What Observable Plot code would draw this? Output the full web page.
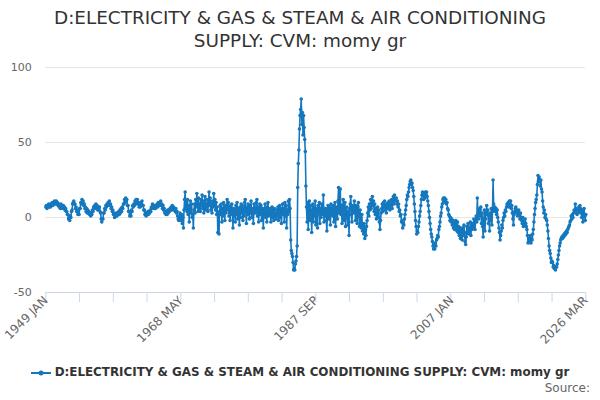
<!DOCTYPE html>
<html><head><meta charset="utf-8">
<script src="https://cdn.jsdelivr.net/npm/d3@7"></script>
<script src="https://cdn.jsdelivr.net/npm/@observablehq/plot@0.6"></script>
<style>
body{margin:0;background:#fff;font-family:"DejaVu Sans",sans-serif;}
#wrap{position:relative;width:600px;height:400px;overflow:hidden;background:#fff;}
#title{position:absolute;top:6px;left:0;width:600px;text-align:center;font-size:18.4px;color:#333;line-height:23px;}
#chart{position:absolute;left:0;top:0;}
#legend{position:absolute;top:365px;left:0;width:600px;text-align:center;font-size:11.9px;font-weight:bold;color:#333;white-space:nowrap;}
#legend svg{vertical-align:middle;margin-right:4px;}
#source{position:absolute;top:381px;right:10px;font-size:12px;color:#666;}
</style>
</head><body>
<div id="wrap">
<div id="chart"></div>
<div id="title">D:ELECTRICITY &amp; GAS &amp; STEAM &amp; AIR CONDITIONING<br>SUPPLY: CVM: momy gr</div>
<div id="legend"><svg width="20" height="10"><line x1="0" y1="5" x2="20" y2="5" stroke="#1578be" stroke-width="2"/><circle cx="10" cy="5" r="2.5" fill="#1578be"/></svg>D:ELECTRICITY &amp; GAS &amp; STEAM &amp; AIR CONDITIONING SUPPLY: CVM: momy gr</div>
<div id="source">Source:</div>
</div>
<script>
const seriesName = "D:ELECTRICITY & GAS & STEAM & AIR CONDITIONING SUPPLY: CVM: momy gr";
const startYear = 1949;
// monthly values, Jan 1949 onward
const d1949 = [
7,8,6,8,7,9,7,8,7,9,8,10,
8,10,9,11,9,10,11,9,10,8,9,7,
8,6,9,7,8,6,8,7,7,5,6,4,
4,2,2,-1,0,-2,1,0,4,5,9,10,
11,9,9,6,7,4,5,2,3,2,6,6,
10,9,12,10,11,8,9,6,7,4,6,3,
5,3,4,2,3,1,3,2,5,4,7,6,
8,6,9,6,8,5,7,6,7,4,3,-1,
-3,-1,-1,3,3,6,5,8,7,9,8,10,
9,11,8,9,6,7,4,5,2,3,0,2];
const d1959 = [
1,3,1,3,2,4,2,5,3,6,4,7,
6,9,9,12,10,13,11,12,8,8,4,4,
1,2,1,5,4,8,7,9,8,11,9,12,
10,12,9,10,7,8,7,10,9,11,8,8,
5,5,2,3,1,3,2,4,2,4,3,5,
4,7,6,9,7,8,6,8,6,8,7,9,
7,10,8,10,9,11,8,9,6,8,5,6,
3,4,2,4,2,5,3,5,4,6,5,7,
5,8,6,7,5,6,4,6,3,4,1,-1,
-2,0,3,1,-2,2,-4,0,-7,5,12,17];
const d1969 = [
6,10,4,12,2,8,-3,6,11,3,9,0,
2,-7,5,9,3,12,7,16,10,4,13,6,
9,4,12,8,15,6,11,3,10,14,5,9,
7,12,4,10,17,8,13,5,9,3,11,7,
16,8,12,5,10,2,7,-10,3,-11,4,8,
2,9,-3,6,1,10,4,-2,8,3,7,12,
5,10,1,7,-2,8,3,9,2,-7,6,1,
4,-3,8,2,10,-1,6,3,-5,7,0,9,
3,8,-2,6,1,10,12,4,-4,7,2,9,
5,-1,8,3,11,0,6,2,-4,9,4,7];
const d1979 = [
3,10,12,1,7,-3,5,9,2,8,-2,6,
4,-7,6,2,9,0,5,-3,7,10,1,4,
2,6,-3,4,7,0,5,-2,6,1,3,-1,
5,1,7,-2,4,8,0,6,-4,3,9,2,
6,-3,10,1,8,-7,5,2,11,4,12,6,
-15,-22,-24,-26,-30,-35,-34,-35,-31,-29,-26,-19,
20,36,45,59,68,72,79,62,70,55,68,60,
52,44,21,7,-3,10,-8,5,11,-2,8,3,
-10,4,9,-3,7,1,11,-5,6,2,-7,8,
3,10,-4,6,0,9,2,7,15,-3,5,1];
const d1989 = [
6,-2,-9,4,8,-1,7,3,-5,9,2,6,
1,8,-3,5,10,-6,4,7,-1,11,20,3,
9,19,2,8,-4,6,12,-2,5,10,-6,3,
7,1,-5,4,-12,6,9,14,2,-3,8,5,
3,11,6,-2,8,4,-4,7,10,1,-6,5,
-3,-7,2,-9,-5,-11,-4,-14,-8,-12,-6,-2,
3,7,1,9,5,12,6,10,14,8,11,4,
9,2,6,-1,4,7,0,5,-3,-8,-2,3,
6,9,4,10,7,11,5,8,3,9,6,10,
7,11,5,9,8,12,6,10,14,9,15,12];
const d1999 = [
11,13,9,11,7,9,4,5,1,2,-3,-2,
-7,-4,-5,-1,2,5,8,12,15,14,17,20,
22,24,25,22,23,20,18,14,9,4,-2,-6,
-11,-9,-10,-6,-3,1,4,8,12,15,17,16,
12,15,13,17,15,17,14,11,8,4,0,-4,
-8,-11,-13,-16,-19,-21,-18,-21,-17,-19,-15,-14,
-12,-13,-8,-6,-3,1,3,7,9,12,13,11,
13,10,12,9,10,6,5,2,1,-2,0,-3,
-1,-5,-2,-7,-3,-8,-4,-2,-6,-9,-3,-10,
-6,-12,-8,-14,-7,-11,-15,-7,-12,-5,-10,-16];
const d2009 = [
-18,-13,-6,-10,-4,-11,-7,-9,-3,-12,-5,-8,
-4,-7,-1,-5,-8,-2,1,-3,13,2,-1,4,
6,1,7,-4,3,-6,-13,-2,5,-9,-1,3,
8,2,5,-4,1,-9,3,-2,6,-5,4,25,
9,5,7,4,6,2,5,0,-3,-7,-10,-15,
-12,-9,-5,-7,-2,0,3,1,5,4,7,9,
8,10,7,11,9,11,6,8,3,-1,-5,2,
4,6,7,3,5,1,4,5,2,-1,3,0,
-2,-4,0,-6,-3,-5,-1,-4,-6,-8,-12,-17,
-16,-14,-15,-12,-17,-14,-15,-11,-8,-3,2,6];
const d2019 = [
10,12,15,22,28,24,27,25,21,25,19,17,
11,7,3,5,0,2,-1,-2,-5,-9,-14,-19,
-22,-24,-27,-30,-29,-30,-33,-32,-34,-33,-35,-33,
-33,-31,-28,-25,-22,-19,-17,-15,-14,-13,-14,-12,
-13,-11,-12,-10,-11,-9,-10,-8,-7,-6,-5,-3,
-2,1,-1,2,0,3,5,4,9,6,3,2,
5,3,7,4,8,6,3,0,5,-3,2,6,
1,-2,2];
const tickLabels = ["1949 JAN","1968 MAY","1987 SEP","2007 JAN","2026 MAR"];
const yTicks = [-50,0,50,100];
const gridLines = [0,50,100];

const values = [].concat(d1949,d1959,d1969,d1979,d1989,d1999,d2009,d2019);
const data = values.map((v,i)=>({i, v}));
const last = values.length - 1;
const labelIdx = [0, 232, 464, 696, last];
const minorIdx = d3.range(17).map(k => k*last/16);
const labelMap = new Map(labelIdx.map((d,k)=>[d, tickLabels[k]]));
const col = "#1578be";

const plot = Plot.plot({
  width:600, height:400,
  marginLeft:45.3, marginRight:14.7, marginTop:67, marginBottom:108,
  style:{fontFamily:"DejaVu Sans, sans-serif", background:"transparent"},
  x:{domain:[0,last]},
  y:{domain:[-50,100]},
  marks:[
    Plot.ruleY(gridLines,{stroke:"#e6e6e6", strokeWidth:1}),
    Plot.axisY({ticks:yTicks, tickSize:0, tickPadding:14, fontSize:11, fill:"#666", tickFormat:d=>String(d), label:null}),
    Plot.axisX({ticks:minorIdx, tickSize:10, tickFormat:()=>"", stroke:"#ccd6eb", label:null}),
    Plot.axisX({ticks:labelIdx, tickSize:0, tickPadding:6, tickRotate:-45, fontSize:12, fill:"#666", tickFormat:d=>labelMap.get(d), label:null}),
    Plot.ruleY([-50],{stroke:"#ccd6eb", strokeWidth:1}),
    Plot.line(data,{x:"i", y:"v", stroke:col, strokeWidth:1.6}),
    Plot.dot(data,{x:"i", y:"v", r:1.8, fill:col, stroke:"none"})
  ]
});
document.getElementById("chart").appendChild(plot);
</script>
</body></html>
